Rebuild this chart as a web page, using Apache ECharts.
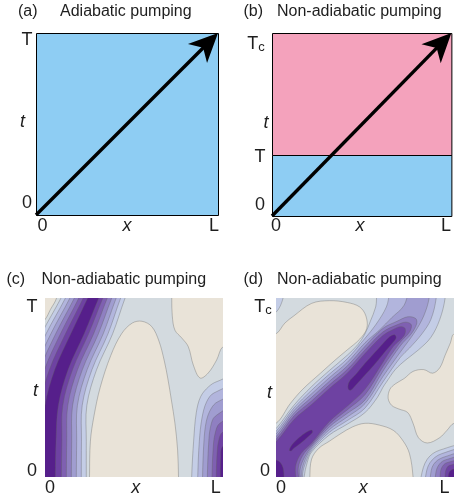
<!DOCTYPE html>
<html><head><meta charset="utf-8">
<script src="https://cdn.jsdelivr.net/npm/echarts@6/dist/echarts.min.js"></script>
<style>html,body{margin:0;padding:0;background:#fff}#c{width:454px;height:504px}</style>
</head><body><div id="c"></div>
<script>
// ---------- data ----------
// panel tick labels
const aXLabels = ['0','x','L'];
const aYLabels = ['0','t','T'];
const bXLabels = ['0','x','L'];
const bYLabels = ['0','T','t','Tc'];
const cXLabels = ['0','x','L'];
const cYLabels = ['0','t','T'];
const dXLabels = ['0','x','L'];
const dYLabels = ['0','t','Tc'];

// (a),(b): regions [x0,x1,t0,t1] and pumping arrow [[x,t],[x,t]]
const bT = 1/3;                       // T / Tc
const aRegions = [[0,1,0,1]];
const bRegions = [[0,1,0,bT],[0,1,bT,1]];
const aArrow = [[0,0],[1,1]];
const bArrow = [[0,0],[1,1]];

// (c) contour levels, x (0..L) and t (0..T) in unit coordinates
const cBeigeWedge = [[-.05,.84],[0,.88],[.03,.935],[.065,1],[.08,1.1],[-.05,1.1]];
const cBeigeHill = [[.25,-.1],[.25,0],[.255,.2],[.275,.34],[.31,.5],[.37,.68],[.43,.8],[.49,.86],[.545,.87],[.6,.84],[.64,.76],[.67,.65],[.69,.55],[.71,.43],[.73,.3],[.745,.15],[.75,0],[.75,-.1]];
const cBeigeTopRight = [[.712,1.1],[.712,1],[.715,.9],[.73,.82],[.768,.777],[.805,.728],[.833,.626],[.871,.553],[.916,.58],[.964,.653],[1,.728],[1.08,.74],[1.08,1.1]];
const cStripeT = [-.1,0,.2,.4,.6,.8,1,1.08];
const cStripeLeft = [
  [-.18,-.18,-.18,-.165,-.11,-.02,.09,.126],
  [-.154,-.154,-.154,-.139,-.084,.006,.115,.151],
  [-.127,-.127,-.127,-.112,-.057,.033,.14,.176],
  [-.10,-.10,-.10,-.085,-.03,.06,.165,.201],
  [-.073,-.073,-.073,-.058,-.003,.087,.19,.226],
  [-.045,-.045,-.045,-.03,.025,.115,.215,.251],
  [-.015,-.015,-.015,0,.055,.145,.24,.276]
];
const cStripeRight = [
  [.232,.232,.232,.235,.29,.38,.45,.486],
  [.204,.204,.205,.209,.264,.354,.425,.461],
  [.176,.176,.178,.182,.237,.327,.40,.436],
  [.148,.148,.15,.155,.21,.30,.375,.411],
  [.12,.12,.122,.128,.183,.273,.35,.386],
  [.092,.092,.095,.10,.155,.245,.325,.361],
  [.058,.058,.062,.075,.13,.22,.302,.338]
];
const cRightL2 = [[.824,-.1],[.824,0],[.835,.2],[.85,.36],[.875,.45],[.92,.505],[.966,.533],[1.08,.56],[1.08,-.1]];
const cRightL3 = [[.858,-.1],[.858,0],[.867,.2],[.882,.33],[.908,.42],[.95,.47],[1.08,.5],[1.08,-.1]];
const cRightL4 = [[.885,-.1],[.885,0],[.893,.2],[.906,.31],[.932,.38],[.97,.42],[1.08,.45],[1.08,-.1]];
const cRightL5 = [[.912,-.1],[.912,0],[.919,.18],[.93,.28],[.957,.34],[1.08,.39],[1.08,-.1]];
const cRightL6 = [[.938,-.1],[.938,0],[.944,.15],[.955,.24],[.982,.30],[1.08,.33],[1.08,-.1]];
const cRightL7 = [[.962,-.1],[.962,0],[.966,.12],[.975,.2],[.997,.25],[1.08,.27],[1.08,-.1]];
const cRightL8 = [[.985,-.1],[.985,0],[.987,.1],[.998,.17],[1.08,.2],[1.08,-.1]];

// (d) contour levels, x (0..L) and t (0..Tc)
const dBeigeA = [[-.08,.3],[0,.3],[.08,.41],[.15,.49],[.25,.58],[.34,.66],[.4,.71],[.47,.77],[.51,.83],[.505,.9],[.47,.95],[.4,.975],[.3,.985],[.2,.97],[.1,.9],[.05,.86],[0,.8],[-.08,.79]];
const dBeigeB = [[.19,-.1],[.19,0],[.2,.1],[.24,.16],[.3,.2],[.36,.24],[.43,.28],[.5,.3],[.58,.29],[.66,.26],[.715,.2],[.75,.13],[.77,0],[.77,-.1]];
const dBeigeC = [[1.08,.3],[1,.3],[.96,.26],[.92,.22],[.85,.19],[.8,.22],[.77,.3],[.74,.36],[.69,.38],[.65,.4],[.63,.44],[.64,.49],[.67,.52],[.72,.55],[.77,.59],[.83,.6],[.88,.58],[.92,.61],[.95,.68],[.98,.75],[1,.8],[1.08,.8]];
const dRidgeL2 = [[-.2,-.1],[-.2,.05],[-.1,.18],[0,.27],[.1,.40],[.2,.505],[.3,.595],[.4,.68],[.46,.74],[.5,.8],[.53,.87],[.56,.95],[.59,1.1],[.95,1.1],[.95,1.0],[.92,.88],[.87,.78],[.8,.71],[.73,.655],[.67,.6],[.62,.53],[.6,.5],[.57,.445],[.5,.36],[.4,.295],[.3,.235],[.2,.14],[.175,.08],[.158,0],[.155,-.1]];
const dRidgeL3 = [[-.2,-.1],[-.2,.1],[-.1,.17],[0,.255],[.1,.385],[.2,.485],[.3,.575],[.4,.66],[.5,.775],[.56,.85],[.62,.95],[.67,1.1],[.9,1.1],[.9,1.0],[.87,.88],[.82,.8],[.75,.72],[.7,.67],[.6,.53],[.5,.385],[.4,.315],[.3,.25],[.2,.15],[.17,.09],[.15,.02],[.147,-.1]];
const dRidgeL4 = [[-.2,-.1],[-.2,.08],[-.1,.155],[0,.24],[.1,.37],[.2,.465],[.3,.555],[.4,.64],[.5,.75],[.58,.82],[.65,.89],[.72,.96],[.77,1.1],[.86,1.1],[.86,1.0],[.83,.9],[.78,.81],[.7,.70],[.6,.56],[.5,.41],[.4,.335],[.3,.265],[.2,.16],[.165,.1],[.145,.03],[.14,-.1]];
const dRidgeL5 = [[-.2,-.1],[-.2,.06],[-.1,.14],[0,.225],[.1,.355],[.2,.445],[.3,.535],[.4,.62],[.5,.73],[.6,.83],[.68,.87],[.74,.895],[.785,.885],[.79,.855],[.76,.8],[.7,.735],[.6,.59],[.5,.43],[.4,.355],[.3,.28],[.2,.17],[.16,.11],[.135,.04],[.13,-.1]];
const dRidgeL6 = [[-.2,-.1],[-.2,.04],[-.1,.125],[0,.21],[.1,.34],[.2,.425],[.3,.515],[.4,.60],[.5,.71],[.6,.81],[.68,.85],[.73,.865],[.76,.85],[.75,.81],[.7,.755],[.6,.615],[.5,.46],[.4,.375],[.3,.295],[.2,.18],[.15,.12],[.125,.05],[.12,-.1]];
const dRidgeL7 = [[-.2,-.1],[-.2,.02],[-.1,.11],[0,.195],[.1,.32],[.2,.405],[.3,.495],[.4,.58],[.5,.69],[.6,.79],[.66,.825],[.7,.84],[.725,.83],[.72,.79],[.66,.73],[.6,.64],[.5,.49],[.4,.395],[.3,.31],[.2,.19],[.14,.13],[.11,.06],[.1,-.1]];
const dCoreUpper = [[.405,.495],[.41,.53],[.45,.575],[.5,.635],[.55,.69],[.6,.745],[.64,.785],[.665,.795],[.675,.78],[.66,.755],[.6,.685],[.55,.625],[.5,.57],[.45,.515],[.42,.485]];
const dCoreLower = [[.075,.15],[.09,.18],[.13,.22],[.17,.25],[.2,.262],[.205,.25],[.18,.225],[.14,.19],[.1,.16],[.085,.145]];
const dCoreCorner = [[-.08,-.1],[-.08,.1],[0,.095],[.025,.08],[.04,.05],[.045,0],[.045,-.1]];
const dCornerL2 = [[.81,-.1],[.815,0],[.85,.1],[.92,.15],[1.08,.17],[1.08,-.1]];
const dCornerL3 = [[.837,-.1],[.84,0],[.865,.08],[.93,.13],[1.08,.15],[1.08,-.1]];
const dCornerL4 = [[.865,-.1],[.867,0],[.885,.07],[.94,.11],[1.08,.13],[1.08,-.1]];
const dCornerL5 = [[.893,-.1],[.895,0],[.91,.06],[.95,.095],[1.08,.11],[1.08,-.1]];
const dCornerL6 = [[.92,-.1],[.922,0],[.93,.05],[.96,.08],[1.08,.09],[1.08,-.1]];
const dCornerL7 = [[.949,-.1],[.95,0],[.955,.04],[.975,.065],[1.08,.07],[1.08,-.1]];
const dCornerL8 = [[.966,-.1],[.968,0],[.975,.03],[1.0,.045],[1.08,.05],[1.08,-.1]];
const dSliver = [[-.08,1.1],[.05,1.1],[.04,1],[0,.92],[-.08,.88]];
const fullRect = [[-.2,-.2],[1.2,-.2],[1.2,1.2],[-.2,1.2]];

// ---------- styles ----------
const FONT = "'Liberation Sans', Arial, Helvetica, sans-serif";
const TXT = '#1e1e1e';
const BLUE = '#8ecdf3', PINK = '#f4a2bc';
const LEVEL_COLORS = ['#e9e3d8','#d3dadf','#c4cde6','#b2b5dd','#a09dd0','#8f7fc1','#7f60b1','#6e42a2','#561f8b'];
const STROKE = 'rgba(95,95,95,0.5)';
const LBL = 18;

// ---------- build polygon lists ----------
function stripe(lx, rx, ts) {
  const p = [];
  for (let i = 0; i < ts.length; i++) p.push([lx[i], ts[i]]);
  for (let i = ts.length - 1; i >= 0; i--) p.push([rx[i], ts[i]]);
  return p;
}
const cPolys = [{pts: fullRect, lv: 1},
  {pts: cBeigeWedge, lv: 0}, {pts: cBeigeHill, lv: 0}, {pts: cBeigeTopRight, lv: 0}];
cStripeLeft.forEach((lx, k) => cPolys.push({pts: stripe(lx, cStripeRight[k], cStripeT), lv: k + 2}));
[cRightL2,cRightL3,cRightL4,cRightL5,cRightL6,cRightL7,cRightL8].forEach((p,k)=>cPolys.push({pts:p, lv:k+2}));

const dPolys = [{pts: fullRect, lv: 1},
  {pts: dBeigeA, lv: 0}, {pts: dBeigeB, lv: 0}, {pts: dBeigeC, lv: 0}, {pts: dSliver, lv: 2}];
[dRidgeL2,dRidgeL3,dRidgeL4,dRidgeL5,dRidgeL6,dRidgeL7].forEach((p,k)=>dPolys.push({pts:p, lv:k+2}));
[dCoreUpper,dCoreLower,dCoreCorner].forEach(p=>dPolys.push({pts:p, lv:8}));
[dCornerL2,dCornerL3,dCornerL4,dCornerL5,dCornerL6,dCornerL7,dCornerL8].forEach((p,k)=>dPolys.push({pts:p, lv:k+2}));

// ---------- series builders ----------
function contourSeries(gi, polys) {
  return {
    type: 'custom', coordinateSystem: 'cartesian2d', xAxisIndex: gi, yAxisIndex: gi, clip: true, silent: true,
    data: polys.map((p, i) => [p.pts[0][0], p.pts[0][1], i]),
    renderItem: (params, api) => {
      const p = polys[params.dataIndex];
      return {
        type: 'polygon',
        shape: {points: p.pts.map(q => api.coord(q)), smooth: 0.35},
        style: {fill: LEVEL_COLORS[p.lv], stroke: p.lv === 1 ? null : STROKE, lineWidth: 0.7}
      };
    }
  };
}
function regionSeries(gi, regions, colors) {
  return {
    type: 'custom', coordinateSystem: 'cartesian2d', xAxisIndex: gi, yAxisIndex: gi, silent: true,
    data: regions.map(r => [r[0], r[2], r[1], r[3]]),
    renderItem: (params, api) => {
      const a = api.coord([api.value(0), api.value(3)]);
      const b = api.coord([api.value(2), api.value(1)]);
      return {type: 'rect', shape: {x: a[0] + .5, y: a[1] + .5, width: b[0] - a[0], height: b[1] - a[1]},
        style: {fill: colors[params.dataIndex], stroke: '#000', lineWidth: 1}};
    }
  };
}
function arrowSeries(gi, seg) {
  return {
    type: 'custom', coordinateSystem: 'cartesian2d', xAxisIndex: gi, yAxisIndex: gi, clip: false, silent: true,
    data: [[seg[0][0], seg[0][1], seg[1][0], seg[1][1]]],
    renderItem: (params, api) => {
      const p0 = api.coord([api.value(0), api.value(1)]);
      const p1 = api.coord([api.value(2), api.value(3)]);
      const dx = p1[0] - p0[0], dy = p1[1] - p0[1], len = Math.hypot(dx, dy);
      const ux = dx / len, uy = dy / len, px = -uy, py = ux;
      const L = 29, W = 13.5, N = 21;
      const bx = p1[0] - ux * L, by = p1[1] - uy * L;
      const nx = p1[0] - ux * N, ny = p1[1] - uy * N;
      return {type: 'group', children: [
        {type: 'line', shape: {x1: p0[0], y1: p0[1], x2: nx + ux * 3, y2: ny + uy * 3}, style: {stroke: '#000', lineWidth: 3.4}},
        {type: 'polygon', shape: {points: [p1, [bx + px * W, by + py * W], [nx, ny], [bx - px * W, by - py * W]]}, style: {fill: '#000'}}
      ]};
    }
  };
}

// ---------- axes ----------
function fmt(lbl) {
  if (lbl === 'x' || lbl === 't') return '{it|' + lbl + '}';
  if (lbl === 'Tc') return '{T|T}{c|c}';
  if (lbl === '0') return '{z|0}';
  return lbl;
}
function labelFor(pos, labels) {
  return v => { let k = 0, best = 1e9; pos.forEach((p, i) => { const d = Math.abs(p - v); if (d < best) { best = d; k = i; } }); return fmt(labels[k]); };
}
function xAxisFor(gi, pos, labels, margin) {
  return {gridIndex: gi, type: 'value', min: 0, max: 1,
    axisLine: {show: false}, axisTick: {show: false}, splitLine: {show: false},
    axisLabel: {customValues: pos, formatter: labelFor(pos, labels), margin: margin,
      fontSize: LBL, fontFamily: FONT, color: TXT,
      rich: {it: {fontStyle: 'italic', fontSize: LBL, fontFamily: FONT, color: TXT}, z: {fontSize: LBL, fontFamily: FONT, color: TXT}}}};
}
function yAxisFor(gi, pos, labels, margin, rich) {
  const base = {fontSize: LBL, fontFamily: FONT, color: TXT};
  return {gridIndex: gi, type: 'value', min: 0, max: 1,
    axisLine: {show: false}, axisTick: {show: false}, splitLine: {show: false},
    axisLabel: {customValues: pos, formatter: labelFor(pos, labels), margin: margin, align: 'center',
      fontSize: LBL, fontFamily: FONT, color: TXT,
      rich: {
        it: Object.assign({}, base, {fontStyle: 'italic'}, rich.it || {}),
        z: Object.assign({}, base, rich.z || {}),
        T: Object.assign({}, base, {lineHeight: 19, verticalAlign: 'bottom'}, rich.T || {}),
        c: Object.assign({}, base, {fontSize: 13, lineHeight: 13, verticalAlign: 'bottom'}, rich.c || {})
      }}};
}

const titleStyle = {fontSize: 16, fontWeight: 'normal', fontFamily: FONT, color: TXT, lineHeight: 16};
function ttl(text, left, top) { return {text: text, left: left, top: top, padding: 0, textStyle: titleStyle}; }

const option = {
  animation: false,
  backgroundColor: '#fff',
  title: [
    ttl('(a)', 18, 3.5), ttl('Adiabatic pumping', 60, 3.5),
    ttl('(b)', 243.5, 3.5), ttl('Non-adiabatic pumping', 277, 3.5),
    ttl('(c)', 6.5, 271.5), ttl('Non-adiabatic pumping', 41.5, 271.5),
    ttl('(d)', 243.5, 271.5), ttl('Non-adiabatic pumping', 277, 271.5)
  ],
  grid: [
    {left: 36, top: 33, width: 182, height: 182},
    {left: 272, top: 33, width: 182, height: 183},
    {left: 45, top: 298, width: 178, height: 179},
    {left: 276, top: 298, width: 178, height: 179}
  ],
  xAxis: [
    xAxisFor(0, [0.036, 0.5, 0.978], aXLabels, 2),
    xAxisFor(1, [0.022, 0.49, 0.97], bXLabels, 1),
    xAxisFor(2, [0.028, 0.51, 0.96], cXLabels, 2),
    xAxisFor(3, [0.028, 0.49, 0.947], dXLabels, 2)
  ],
  yAxis: [
    yAxisFor(0, [0.066, 0.51, 0.959], aYLabels, 9, {it: {padding: [0, 9, 0, 0]}}),
    yAxisFor(1, [0.06, 0.32, 0.51, 0.94], bYLabels, 12, {it: {padding: [0, 0, 0, 12]}, c: {padding: [0, 8, 0, 0]}}),
    yAxisFor(2, [0.034, 0.48, 0.95], cYLabels, 13, {it: {padding: [0, 0, 0, 7]}}),
    yAxisFor(3, [0.034, 0.47, 0.95], dYLabels, 13, {it: {padding: [0, 0, 0, 13]}, z: {padding: [0, 0, 0, 4]}})
  ],
  series: [
    regionSeries(0, aRegions, [BLUE]),
    arrowSeries(0, aArrow),
    regionSeries(1, bRegions, [BLUE, PINK]),
    arrowSeries(1, bArrow),
    contourSeries(2, cPolys),
    contourSeries(3, dPolys)
  ]
};
const chart = echarts.init(document.getElementById('c'));
chart.setOption(option);
</script></body></html>
